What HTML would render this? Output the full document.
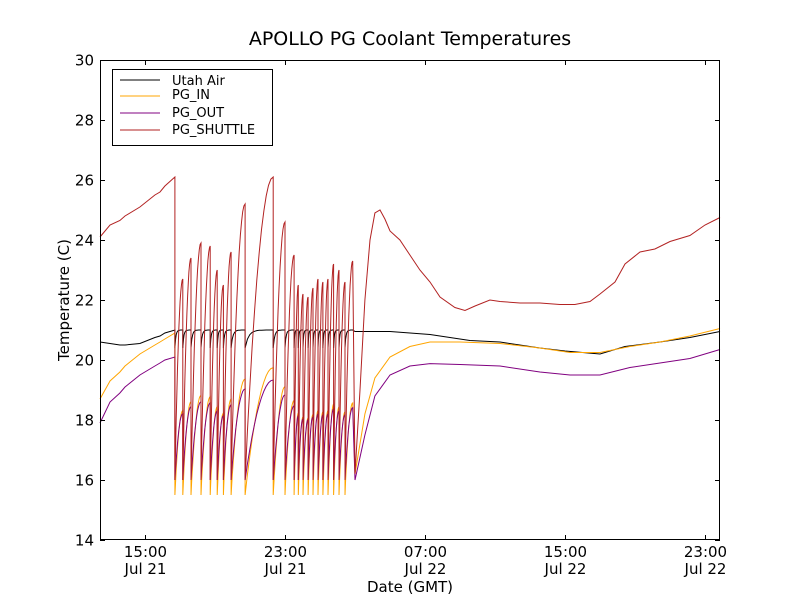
<!DOCTYPE html>
<html><head><meta charset="utf-8"><style>body{margin:0;background:#fff}svg{display:block;font-family:"DejaVu Sans","Liberation Sans",sans-serif}</style></head>
<body>
<svg id="c" width="800" height="600">
<rect width="800" height="600" fill="#fff"/>
<text x="410" y="45" font-size="19" text-anchor="middle">APOLLO PG Coolant Temperatures</text>
<text x="410" y="592" font-size="15" text-anchor="middle">Date (GMT)</text>
<text transform="translate(69,300) rotate(-90)" font-size="15" text-anchor="middle">Temperature (C)</text>
<g id="plot"></g>
<g id="axes"></g>
<g>
<rect x="112.5" y="69.5" width="160" height="76" fill="#fff" stroke="#000"/>
<line x1="120" y1="80" x2="160" y2="80" stroke="#000"/>
<text x="172" y="85" font-size="13">Utah Air</text>
<line x1="120" y1="96" x2="160" y2="96" stroke="#ffa500"/>
<text x="172" y="99" font-size="13">PG_IN</text>
<line x1="120" y1="113" x2="160" y2="113" stroke="#800080"/>
<text x="172" y="117" font-size="13">PG_OUT</text>
<line x1="120" y1="130" x2="160" y2="130" stroke="#b22222"/>
<text x="172" y="134" font-size="13">PG_SHUTTLE</text>
</g>
</svg>
<script>
// hours since Jul 21 00:00
const xTicks=[15,23,31,39,47];
const xTickLabels=[["15:00","Jul 21"],["23:00","Jul 21"],["07:00","Jul 22"],["15:00","Jul 22"],["23:00","Jul 22"]];
const yTicks=[14,16,18,20,22,24,26,28,30];
// pre-oscillation
const preT=[12.43,13.0,13.57,13.86,14.71,15.57,15.86,16.14,16.71];
const preShuttle=[24.1,24.5,24.65,24.8,25.1,25.5,25.6,25.8,26.1];
const preIn=[18.7,19.3,19.6,19.8,20.2,20.5,20.6,20.7,20.9];
const preOut=[17.9,18.6,18.9,19.1,19.5,19.8,19.9,20.0,20.1];
const preAir=[20.6,20.55,20.5,20.5,20.55,20.75,20.8,20.9,21.0];
// cycle peaks (drop times) and shuttle peak values
const cycleT=[17.16,17.63,18.20,18.73,19.13,19.48,19.92,20.72,22.33,23.0,23.52,23.76,24.03,24.32,24.60,24.89,25.17,25.46,25.78,26.09,26.43,26.87];
const cyclePeak=[22.7,23.4,23.9,23.8,23.0,22.5,23.6,25.2,26.1,24.6,23.5,22.5,22.2,22.1,22.4,22.7,22.6,22.7,23.2,23.0,22.6,23.3];
// recovery
const postT=[27.0,27.29,27.57,27.86,28.14,28.43,28.71,29.0,29.57,30.14,30.71,31.29,31.86,32.71,33.29,33.86,34.71,35.29,36.43,37.57,38.71,39.57,40.43,41.0,41.86,42.43,43.29,44.14,45.0,46.14,47.0,47.86];
const postShuttle=[16.2,19,22,24.0,24.9,25.0,24.7,24.3,24.0,23.5,23.0,22.6,22.1,21.75,21.65,21.8,22.0,21.95,21.9,21.9,21.85,21.85,21.95,22.2,22.6,23.2,23.6,23.7,23.95,24.15,24.5,24.75];
const postInT=[27.0,27.57,28.14,29.0,30.14,31.29,33.0,35.29,37.57,39.29,41.0,42.71,44.43,46.14,47.86];
const postIn=[16.2,18.2,19.4,20.1,20.45,20.6,20.6,20.55,20.4,20.25,20.25,20.45,20.6,20.8,21.05];
const postOut=[16.0,17.5,18.8,19.5,19.8,19.88,19.85,19.8,19.6,19.5,19.5,19.75,19.9,20.05,20.35];
const postAirT=[27.0,29.0,31.29,33.57,35.29,37.57,39.0,41.0,42.43,44.43,46.14,47.86];
const postAir=[20.95,20.95,20.85,20.65,20.6,20.4,20.3,20.2,20.45,20.6,20.75,20.95];

const X0=100,X1=720,Y0=540,Y1=60,T0=12.43,T1=47.86;
const sx=t=>X0+(t-T0)/(T1-T0)*(X1-X0);
const sy=v=>Y0-(v-14)/16*(Y0-Y1);
const NS='http://www.w3.org/2000/svg';
const plot=document.getElementById('plot'),axes=document.getElementById('axes');
function mk(tag,a,p){const e=document.createElementNS(NS,tag);for(const k in a)e.setAttribute(k,a[k]);p.appendChild(e);return e;}
function build(tArr,vArr){return tArr.map((t,i)=>[t,vArr[i]]);}
let sh=build(preT,preShuttle),pin=build(preT,preIn),pout=build(preT,preOut),air=build(preT,preAir);
let prev=preT[preT.length-1];
for(let i=0;i<cycleT.length;i++){
  const s=prev,e=cycleT[i],pk=cyclePeak[i];
  const inEnd=15.5+(pk-16)*0.42,outEnd=16+(pk-16)*0.33;
  const n=12;
  for(let j=0;j<=n;j++){
    const u=j/n,f=1-(1-u)*(1-u),t=s+(e-s)*u;
    sh.push([t,16+(pk-16)*f]);
    pin.push([t,15.5+(inEnd-15.5)*f]);
    pout.push([t,16+(outEnd-16)*f]);
    air.push([t,21-0.6*Math.exp(-u*8)]);
  }
  prev=e;
}
sh=sh.concat(build(postT,postShuttle));
pin=pin.concat(build(postInT,postIn));
pout=pout.concat(build(postInT,postOut));
air=air.concat(build(postAirT,postAir));
function line(pts,col,name){
  const p=mk('polyline',{points:pts.map(q=>sx(q[0]).toFixed(1)+','+sy(q[1]).toFixed(1)).join(' '),fill:'none',stroke:col,'stroke-width':1},plot);
  
  
}
line(air,'#000','utah-air-line');
line(pin,'#ffa500','pg-in-line');
line(pout,'#800080','pg-out-line');
line(sh,'#b22222','pg-shuttle-line');
const fr=mk('rect',{x:X0+.5,y:Y1+.5,width:X1-X0-1,height:Y0-Y1-1,fill:'none',stroke:'#000'},axes);


xTicks.forEach((t,i)=>{
  const x=Math.round(sx(t))+.5;
  mk('line',{x1:x,y1:Y0,x2:x,y2:Y0-5,stroke:'#000'},axes);
  mk('line',{x1:x,y1:Y1,x2:x,y2:Y1+5,stroke:'#000'},axes);
  const a=mk('text',{x:x,y:557,'font-size':15,'text-anchor':'middle'},axes);a.textContent=xTickLabels[i][0];
  
  
  const b=mk('text',{x:x,y:574,'font-size':15,'text-anchor':'middle'},axes);b.textContent=xTickLabels[i][1];
  
  
});
yTicks.forEach(v=>{
  const y=Math.round(sy(v))+.5;
  mk('line',{x1:X0,y1:y,x2:X0+5,y2:y,stroke:'#000'},axes);
  mk('line',{x1:X1,y1:y,x2:X1-5,y2:y,stroke:'#000'},axes);
  const a=mk('text',{x:94,y:y+5,'font-size':15,'text-anchor':'end'},axes);a.textContent=v;
  
  
});
</script>
</body></html>
